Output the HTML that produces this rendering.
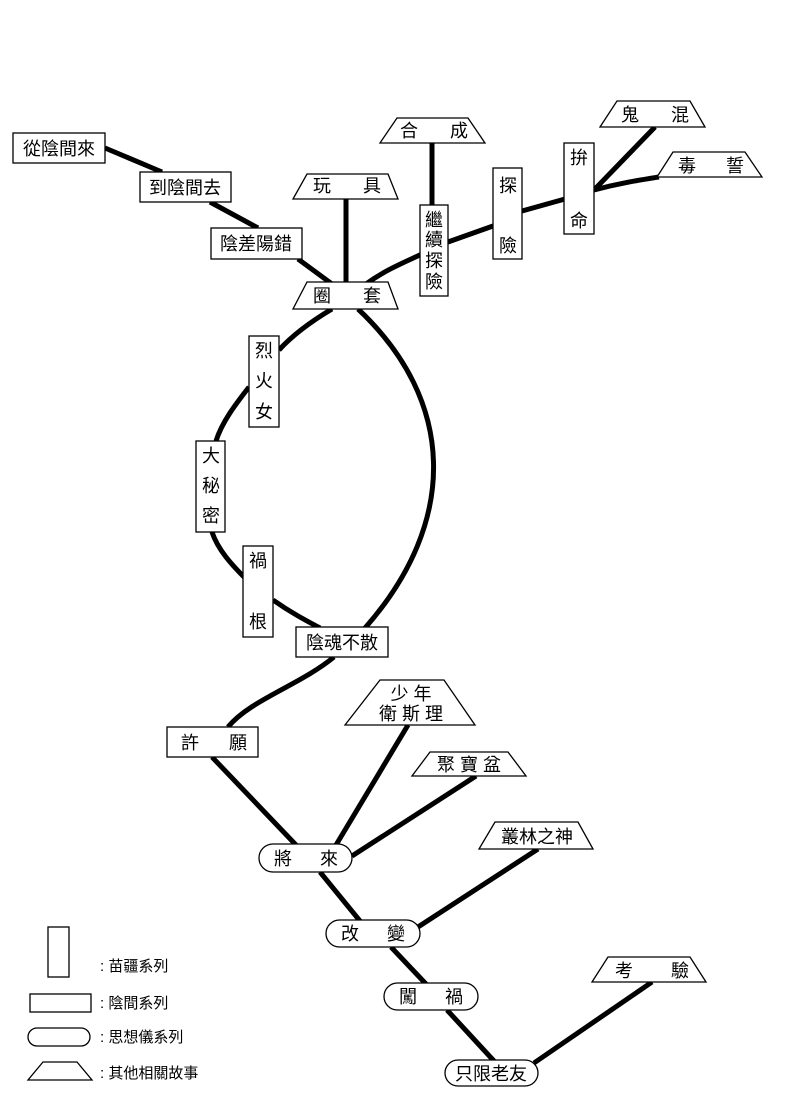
<!DOCTYPE html>
<html><head><meta charset="utf-8"><style>
html,body{margin:0;padding:0;background:#fff;}
svg{display:block;}
text{font-family:"Liberation Sans","Noto Sans CJK TC",sans-serif;font-size:18px;fill:#000;}
.s{font-size:15px;}
</style></head><body>
<svg width="800" height="1100" viewBox="0 0 800 1100" xmlns="http://www.w3.org/2000/svg">
<g stroke="#000" stroke-width="5" fill="none" stroke-linecap="butt">
<line x1="105" y1="148" x2="162" y2="172"/>
<line x1="210" y1="202" x2="258" y2="228"/>
<line x1="298" y1="259" x2="332" y2="284"/>
<line x1="346" y1="199" x2="346" y2="284"/>
<path d="M366,284 C385,270 405,262 422,254"/>
<line x1="448" y1="242" x2="493" y2="226"/>
<line x1="522" y1="211" x2="565" y2="199"/>
<path d="M594,190 C620,183 640,180 659,177"/>
<line x1="655" y1="127" x2="594" y2="190"/>
<line x1="432" y1="143" x2="432" y2="206"/>
<path d="M332,309 C305,325 290,338 279,350"/>
<path d="M249,387 C235,405 222,422 216,441"/>
<path d="M212,532 C218,550 232,565 245,578"/>
<path d="M273,600 C290,612 305,620 320,628"/>
<path d="M358,309 C455,400 460,520 365,628"/>
<path d="M334,657 C300,685 250,700 228,727"/>
<line x1="212" y1="757" x2="296" y2="845"/>
<line x1="408" y1="725" x2="336" y2="845"/>
<line x1="476" y1="776" x2="352" y2="856"/>
<line x1="320" y1="872" x2="360" y2="921"/>
<line x1="538" y1="849" x2="418" y2="927"/>
<line x1="391" y1="947" x2="426" y2="984"/>
<line x1="447" y1="1010" x2="494" y2="1061"/>
<line x1="652" y1="982" x2="534" y2="1063"/>
</g>
<g stroke="#000" stroke-width="1.3" fill="#fff">
<rect x="13" y="133" width="92" height="30"/>
<rect x="140" y="172" width="91" height="30"/>
<rect x="211" y="228" width="91" height="31"/>
<rect x="296" y="627" width="92" height="30"/>
<rect x="167" y="727" width="91" height="30"/>
<rect x="420" y="205" width="28" height="91"/>
<rect x="493" y="168" width="29" height="91"/>
<rect x="564" y="143" width="30" height="91"/>
<rect x="249" y="336" width="30" height="91"/>
<rect x="196" y="441" width="29" height="91"/>
<rect x="243" y="546" width="30" height="91"/>
<polygon points="307,174 388,174 398,199 293,199"/>
<polygon points="307,282 388,282 398,309 293,309"/>
<polygon points="397,118 468,118 485,143 380,143"/>
<polygon points="617,101 690,101 705,127 600,127"/>
<polygon points="673,152 745,152 762,177 657,177"/>
<polygon points="380,680 444,680 475,725 345,725"/>
<polygon points="430,752 508,752 526,776 412,776"/>
<polygon points="495,822 578,822 593,849 479,849"/>
<polygon points="608,957 690,957 706,982 592,982"/>
<rect x="259" y="844" width="93" height="28" rx="14"/>
<rect x="326" y="920" width="94" height="27" rx="13.5"/>
<rect x="384" y="983" width="94" height="27" rx="13.5"/>
<rect x="445" y="1060" width="93" height="26" rx="13"/>
<rect x="48" y="927" width="21" height="50"/>
<rect x="30" y="994" width="61" height="18"/>
<rect x="28" y="1028" width="62" height="18" rx="9"/>
<polygon points="43,1062 77,1062 92,1080 28,1080"/>
</g>
<g text-anchor="middle">
<text x="59" y="155">從陰間來</text>
<text x="185" y="194">到陰間去</text>
<text x="256" y="250">陰差陽錯</text>
<text x="342" y="649">陰魂不散</text>
<text x="190" y="749">許</text><text x="238" y="749">願</text>
<text x="322" y="192">玩</text><text x="372" y="192">具</text>
<text x="322" y="302">圈</text><text x="372" y="302">套</text>
<text x="409" y="137">合</text><text x="459" y="137">成</text>
<text x="630" y="121">鬼</text><text x="680" y="121">混</text>
<text x="687" y="172">毒</text><text x="735" y="172">誓</text>
<text x="411" y="700">少 年</text>
<text x="411" y="720">衛 斯 理</text>
<text x="469" y="771">聚 寶 盆</text>
<text x="537" y="843">叢林之神</text>
<text x="624" y="977">考</text><text x="680" y="977">驗</text>
<text x="283" y="865">將</text><text x="329" y="865">來</text>
<text x="350" y="940">改</text><text x="396" y="940">變</text>
<text x="408" y="1003">闖</text><text x="454" y="1003">禍</text>
<text x="491" y="1080">只限老友</text>
<text x="434" y="226">繼</text><text x="434" y="246">續</text><text x="434" y="267">探</text><text x="434" y="288">險</text>
<text x="508" y="192">探</text><text x="508" y="252">險</text>
<text x="579" y="164">拚</text><text x="579" y="227">命</text>
<text x="264" y="357">烈</text><text x="264" y="387">火</text><text x="264" y="418">女</text>
<text x="211" y="462">大</text><text x="211" y="492">秘</text><text x="211" y="522">密</text>
<text x="258" y="567">禍</text><text x="258" y="628">根</text>
</g>
<g class="s">
<text class="s" x="100" y="971">: 苗疆系列</text>
<text class="s" x="100" y="1008">: 陰間系列</text>
<text class="s" x="100" y="1042">: 思想儀系列</text>
<text class="s" x="100" y="1078">: 其他相關故事</text>
</g>
</svg>
</body></html>
